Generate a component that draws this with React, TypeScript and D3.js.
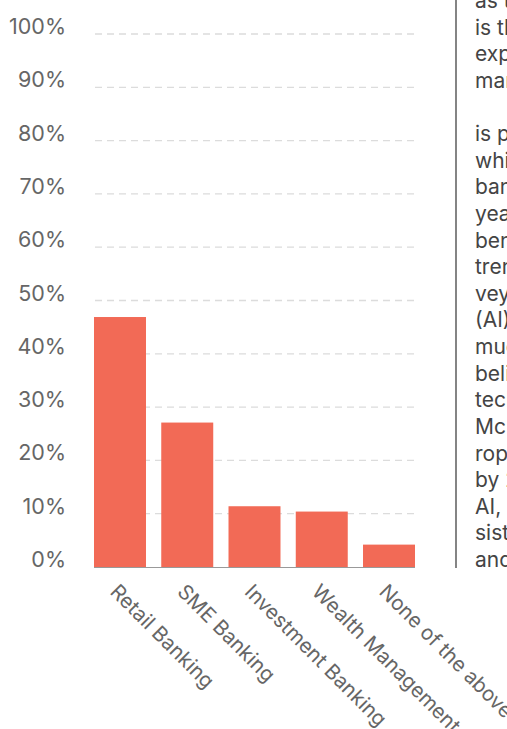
import React from "react";
import * as d3 from "d3";

const categories = ["Retail Banking", "SME Banking", "Investment Banking", "Wealth Management", "None of the above"];
const values = [46.9, 27.1, 11.4, 10.4, 4.2];
const yTicks = [0, 10, 20, 30, 40, 50, 60, 70, 80, 90, 100];
const sideText = [
  "as the", "is the", "expected", "market", "", "is projected", "which", "banking", "years",
  "benefits", "trend", "vey", "(AI)", "much", "believe", "technology", "McKinsey", "rope",
  "by 2030", "AI,", "sistants", "and",
];

const W = 507;
const H = 729;
const FONT = "Inter, sans-serif";

export default function App() {
  const x = d3.scaleBand<string>().domain(categories).range([94, 415]).paddingInner(0.227).paddingOuter(0);
  const y = d3.scaleLinear().domain([0, 100]).range([567, 34]);
  const lineH = 26.62;
  return (
    <svg width={W} height={H} style={{ position: "absolute", left: 0, top: 0 }} fontFamily={FONT}>
      {yTicks.filter((t) => t > 0).map((t) => (
        <line key={"g" + t} x1={95} x2={415} y1={y(t)} y2={y(t)} stroke="#dcdcdc" strokeWidth={1.3} strokeDasharray="7,5" />
      ))}
      {yTicks.map((t) => (
        <text key={"t" + t} x={66} y={y(t)} textAnchor="end" fontSize={21.5} fill="#666">{t + "%"}</text>
      ))}
      {categories.map((c, i) => (
        <rect key={c} x={x(c)} y={y(values[i])} width={x.bandwidth()} height={y(0) - y(values[i])} fill="#f26a56" />
      ))}
      <line x1={94} x2={415} y1={y(0) + 0.5} y2={y(0) + 0.5} stroke="#999" strokeWidth={1.2} />
      {categories.map((c) => {
        const cx = (x(c) as number) + x.bandwidth() / 2 - 11;
        const cy = 593;
        return (
          <text key={"l" + c} x={cx} y={cy} transform={`rotate(45,${cx},${cy})`} fontSize={20.5} fill="#666">{c}</text>
        );
      })}
      <line x1={456} x2={456} y1={0} y2={568} stroke="#333" strokeWidth={1.2} />
      {sideText.map((s, i) => (
        <text key={"s" + i} x={475} y={567 - (sideText.length - 1 - i) * lineH} fontSize={21} fill="#444">{s}</text>
      ))}
    </svg>
  );
}
